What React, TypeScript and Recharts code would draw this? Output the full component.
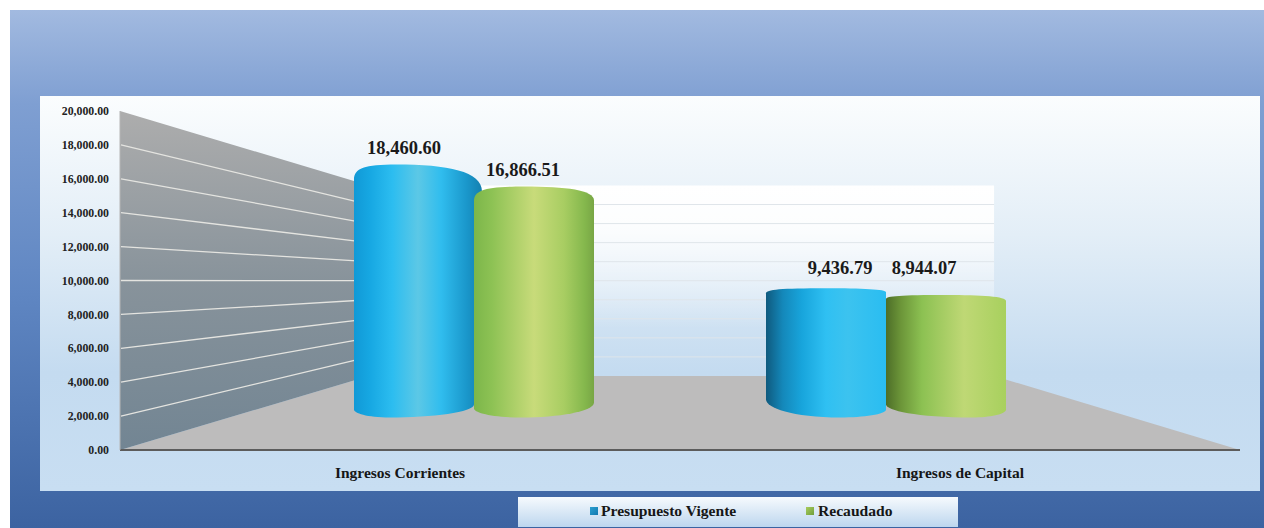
import React from "react";
import { ComposedChart, Bar, XAxis, YAxis, ReferenceArea, LabelList, Legend } from "recharts";

const categories = ["Ingresos Corrientes", "Ingresos de Capital"];
const presupuestoVigente = [18460.6, 9436.79];
const recaudado = [16866.51, 8944.07];
const yTicks = [0, 2000, 4000, 6000, 8000, 10000, 12000, 14000, 16000, 18000, 20000];

const data = categories.map((name, i) => ({
  name,
  presupuesto: presupuestoVigente[i],
  recaudado: recaudado[i],
}));

const FONT = "'Liberation Serif', 'Times New Roman', serif";
const fmt = (v: number) =>
  v.toLocaleString("en-US", { minimumFractionDigits: 2, maximumFractionDigits: 2 });

// Rim shape of each cylinder: top-left drop, top-right drop, apex fraction,
// bottom-left rise, bottom-right rise, bottom apex fraction, extra width.
const blueRims = [
  { tl: 15, tr: 27, ax: 0.33, bl: 8, br: 13, bx: 0.3, ew: 8 },
  { tl: 5, tr: 4, ax: 0.5, bl: 18, br: 8, bx: 0.62, ew: 0 },
];
const greenRims = [
  { tl: 14, tr: 14, ax: 0.42, bl: 9, br: 15, bx: 0.4, ew: 0 },
  { tl: 4, tr: 6, ax: 0.5, bl: 13, br: 8, bx: 0.72, ew: 0 },
];
type Stop = [number, string];
const blueStops: Stop[][] = [
  [[0, "#1199d6"], [0.12, "#16a7e2"], [0.3, "#2cbdf0"], [0.5, "#5cc8e6"], [0.68, "#30bdee"], [0.88, "#1a97cb"], [1, "#1480b0"]],
  [[0, "#0f5a7e"], [0.14, "#1488ba"], [0.3, "#18a5dc"], [0.5, "#2fc0f2"], [0.68, "#3cc3ef"], [1, "#2abdf1"]],
];
const greenStops: Stop[][] = [
  [[0, "#7cb64a"], [0.15, "#8dc254"], [0.5, "#c8db7a"], [0.75, "#a8cd62"], [0.92, "#85b84d"], [1, "#78a645"]],
  [[0, "#4d6e28"], [0.12, "#6b9438"], [0.3, "#8cc152"], [0.65, "#bfd875"], [1, "#a8d05e"]],
];
const blueLabelShift = [{ dx: -10, dy: -16.5 }, { dx: 14, dy: -20 }];
const greenLabelShift = [{ dx: -11, dy: -16.5 }, { dx: -22, dy: -27 }];

const makeCylinder = (id: string, rims: typeof blueRims, stops: Stop[][]) => (props: any) => {
  const { x, y, width, height, index } = props;
  const r = rims[index];
  const w = width + r.ew;
  const b = y + height;
  const ax = x + w * r.ax;
  const bx = x + width * r.bx;
  const d = [
    `M${x},${y + r.tl}`,
    `C${x},${y + r.tl * 0.25} ${x + (ax - x) * 0.25},${y} ${ax},${y}`,
    `C${ax + (x + w - ax) * 0.6},${y} ${x + w},${y + r.tr * 0.25} ${x + w},${y + r.tr}`,
    `L${x + width},${b - r.br}`,
    `C${x + width},${b - r.br * 0.4} ${bx + (x + width - bx) * 0.5},${b} ${bx},${b}`,
    `C${x + (bx - x) * 0.35},${b} ${x},${b - r.bl * 0.55} ${x},${b - r.bl}`,
    "Z",
  ].join(" ");
  const gid = `${id}-${index}`;
  return (
    <g>
      <defs>
        <linearGradient id={gid} x1="0" y1="0" x2="1" y2="0">
          {stops[index].map(([o, c]) => (
            <stop key={o} offset={o} stopColor={c} />
          ))}
        </linearGradient>
      </defs>
      <path d={d} fill={`url(#${gid})`} />
    </g>
  );
};

const makeLabel = (shift: typeof blueLabelShift) => (props: any) => {
  const { x, y, width, value, index } = props;
  return (
    <text
      x={x + width / 2 + shift[index].dx}
      y={y + shift[index].dy}
      textAnchor="middle"
      dominantBaseline="central"
      fontFamily={FONT}
      fontWeight="bold"
      fontSize={18.5}
      fill="#1a1a1a"
    >
      {fmt(value)}
    </text>
  );
};

// The 3D room behind the cylinders, projected from the plot box.
const Room = (props: any) => {
  const { x, y, width, height } = props;
  const right = x + width;
  const bottom = y + height;
  const hz = y + height * 0.5015;
  const depth = 0.5618;
  const backL = x + width * 0.2223;
  const backR = right - width * 0.2196;
  const front = (v: number) => bottom - (height * v) / 20000;
  const back = (v: number) => hz + (front(v) - hz) * depth;
  return (
    <g>
      <defs>
        <linearGradient id="wall" x1="0" y1="0" x2="0" y2="1">
          <stop offset="0" stopColor="#adadad" />
          <stop offset="0.5" stopColor="#88939b" />
          <stop offset="1" stopColor="#728593" />
        </linearGradient>
        <linearGradient id="backwall" x1="0" y1="0" x2="0" y2="1">
          <stop offset="0" stopColor="#ffffff" />
          <stop offset="0.2" stopColor="#ffffff" stopOpacity={0.9} />
          <stop offset="0.75" stopColor="#ffffff" stopOpacity={0} />
        </linearGradient>
      </defs>
      <polygon
        points={`${backL},${back(20000)} ${backR},${back(20000)} ${backR},${back(0)} ${backL},${back(0)}`}
        fill="url(#backwall)"
      />
      {yTicks.slice(1, -1).map((v) => (
        <line key={`b${v}`} x1={backL} x2={backR} y1={back(v)} y2={back(v)} stroke="#dfe5ea" strokeWidth={1} />
      ))}
      <polygon
        points={`${x},${bottom} ${backL},${back(0)} ${backR},${back(0)} ${right},${bottom}`}
        fill="#bdbcbc"
      />
      <polygon
        points={`${x},${front(20000)} ${backL},${back(20000)} ${backL},${back(0)} ${x},${bottom}`}
        fill="url(#wall)"
      />
      {yTicks.slice(1, -1).map((v) => (
        <line key={`w${v}`} x1={x + 1} x2={backL} y1={front(v)} y2={back(v)} stroke="#e4e4e0" strokeWidth={1.3} />
      ))}
    </g>
  );
};

const legendGradient = (c1: string, c2: string) => `linear-gradient(135deg, ${c1}, ${c2})`;
const legendSwatch: Record<string, [string, string]> = {
  presupuesto: ["#2a9fd0", "#1279b0"],
  recaudado: ["#a8cc5c", "#6f9e3c"],
};
const legendPlacement: Record<string, { marker: number; text: number }> = {
  presupuesto: { marker: 72, text: 83 },
  recaudado: { marker: 288, text: 300 },
};

const LegendBox = (props: any) => (
  <div style={{ position: "relative", width: 440, height: 30, background: "linear-gradient(#f6fafd, #bdd6ee)" }}>
    {(props.payload || []).map((p: any) => {
      const pos = legendPlacement[p.dataKey];
      const [c1, c2] = legendSwatch[p.dataKey];
      return (
        <React.Fragment key={p.dataKey}>
          <span
            style={{
              position: "absolute",
              left: pos.marker,
              top: 10,
              width: 8,
              height: 8,
              background: legendGradient(c1, c2),
            }}
          />
          <span
            style={{
              position: "absolute",
              left: pos.text,
              top: 5,
              fontFamily: FONT,
              fontWeight: "bold",
              fontSize: 15.6,
              lineHeight: "18px",
              color: "#161616",
              whiteSpace: "nowrap",
            }}
          >
            {p.value}
          </span>
        </React.Fragment>
      );
    })}
  </div>
);

export default function App() {
  return (
    <div style={{ position: "absolute", left: 0, top: 0, width: 1264, height: 528, overflow: "hidden", background: "#fff" }}>
      <div
        style={{
          position: "absolute",
          left: 10,
          top: 10,
          width: 1254,
          height: 518,
          background: "linear-gradient(#a2bae0 0%, #7f9fd2 18%, #5f86c2 55%, #3c63a1 100%)",
        }}
      />
      <div
        style={{
          position: "absolute",
          left: 40,
          top: 96,
          width: 1220,
          height: 395,
          background: "linear-gradient(#fbfdfe 0%, #e3eef7 35%, #c4dbf0 70%, #c8def2 100%)",
        }}
      />
      <ComposedChart
        width={1264}
        height={528}
        data={data}
        barSize={120}
        barGap={0}
        margin={{ top: 111, right: 24, bottom: 48, left: 20 }}
        style={{ position: "absolute", left: 0, top: 0 }}
      >
        <XAxis
          dataKey="name"
          height={30}
          axisLine={{ stroke: "#5c5c5c", strokeWidth: 2 }}
          tickLine={false}
          tickMargin={11}
          tick={{ fontFamily: FONT, fontWeight: "bold", fontSize: 15.5, fill: "#161616" }}
        />
        <XAxis xAxisId="bars" dataKey="name" hide padding={{ left: 148, right: 148 }} />
        <YAxis
          width={100}
          type="number"
          domain={[0, 20000]}
          allowDataOverflow
          ticks={yTicks}
          interval={0}
          tickFormatter={fmt}
          axisLine={{ stroke: "#b5b5b5", strokeWidth: 1 }}
          tickLine={false}
          tickMargin={5}
          tick={{ fontFamily: FONT, fontWeight: "bold", fontSize: 11.8, fill: "#222" }}
        />
        <YAxis yAxisId="bars" hide domain={[-2372, 22372]} allowDataOverflow />
        <ReferenceArea y1={0} y2={20000} shape={Room} ifOverflow="visible" />
        <Bar
          dataKey="presupuesto"
          name="Presupuesto Vigente"
          xAxisId="bars"
          yAxisId="bars"
          fill="#1ea6df"
          isAnimationActive={false}
          shape={makeCylinder("blue", blueRims, blueStops)}
        >
          <LabelList dataKey="presupuesto" content={makeLabel(blueLabelShift)} />
        </Bar>
        <Bar
          dataKey="recaudado"
          name="Recaudado"
          xAxisId="bars"
          yAxisId="bars"
          fill="#8cc152"
          isAnimationActive={false}
          shape={makeCylinder("green", greenRims, greenStops)}
        >
          <LabelList dataKey="recaudado" content={makeLabel(greenLabelShift)} />
        </Bar>
        <Legend
          layout="horizontal"
          verticalAlign="middle"
          align="center"
          content={LegendBox}
          wrapperStyle={{ position: "absolute", left: 518, top: 497, width: 440, height: 30, bottom: "auto" }}
        />
      </ComposedChart>
    </div>
  );
}
